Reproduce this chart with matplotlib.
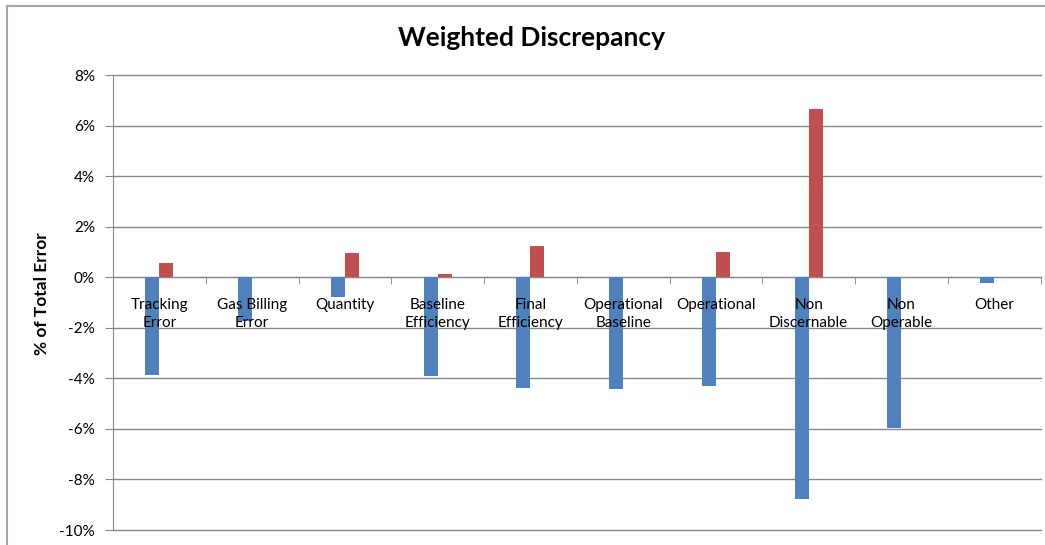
import matplotlib
matplotlib.use("Agg")
import matplotlib.pyplot as plt
from matplotlib.ticker import FuncFormatter, FixedLocator
from matplotlib.lines import Line2D
import matplotlib.transforms as mtransforms
import numpy as np

categories = ["Tracking\nError", "Gas Billing\nError", "Quantity", "Baseline\nEfficiency",
              "Final\nEfficiency", "Operational\nBaseline", "Operational", "Non\nDiscernable",
              "Non\nOperable", "Other"]
blue_values = [-3.86, -1.75, -0.79, -3.90, -4.39, -4.43, -4.30, -8.76, -5.97, -0.21]
red_values = [0.55, 0.0, 0.95, 0.12, 1.25, 0.0, 1.00, 6.65, 0.0, 0.0]
yticks = [-10, -8, -6, -4, -2, 0, 2, 4, 6, 8]

plt.rcParams['font.family'] = ['Lato', 'DejaVu Sans']

W, H = 1045, 545
fig = plt.figure(figsize=(W / 100, H / 100), dpi=100)
left, right, top, bottom = 113, 1040.5, 75, 530
ax = fig.add_axes([left / W, (H - bottom) / H, (right - left) / W, (bottom - top) / H])

x = np.arange(len(categories))
bw = 0.15
ax.bar(x - bw / 2, blue_values, width=bw, color="#4F81BD", zorder=3)
ax.bar(x + bw / 2, red_values, width=bw, color="#C0504D", zorder=3)

ax.set_xlim(-0.5, len(categories) - 0.5)
ax.set_ylim(-10, 8)
ax.set_yticks(yticks)
ax.yaxis.set_major_formatter(FuncFormatter(lambda v, p: f"{v:.0f}%"))
ax.grid(axis='y', color="#888888", linewidth=1.0, zorder=0)
for gl in ax.get_ygridlines():
    gl.set_clip_on(False)
ax.set_axisbelow(True)

for s in ['top', 'right']:
    ax.spines[s].set_visible(False)
ax.spines['left'].set_color("#888888")
ax.spines['bottom'].set_position(('data', 0))
ax.spines['bottom'].set_color("#888888")
ax.spines['bottom'].set_zorder(2)

ax.set_xticks(x)
ax.set_xticklabels([])
ax.tick_params(axis='x', which='major', length=0)
ax.xaxis.set_minor_locator(FixedLocator(np.arange(-0.5, len(categories), 1.0)))
ax.tick_params(axis='x', which='minor', length=5, color="#888888", direction='out')
ax.tick_params(axis='y', length=6, color="#888888", labelsize=11, pad=7)

# category labels drawn over the bars, just below the zero line
off = mtransforms.offset_copy(ax.transData, fig=fig, x=0, y=-20.5 * 0.72, units='points')
for xi, lab in zip(x, categories):
    ax.text(xi, 0, lab, transform=off, ha='center', va='top', fontsize=11,
            linespacing=1.38, zorder=5)

ax.set_ylabel("% of Total Error", fontsize=12.5, fontweight='bold')
ax.yaxis.set_label_coords((50 - left) / (right - left), 0.52)

fig.text(531 / W, 1 - 38 / H, "Weighted Discrepancy", fontsize=19, fontweight='bold',
         ha='center', va='center')

# outer chart border
fig.add_artist(Line2D([7 / W, 7 / W], [0, 1 - 6 / H], transform=fig.transFigure, color="#A6A6A6", lw=1.5))
fig.add_artist(Line2D([7 / W, 1], [1 - 6 / H, 1 - 6 / H], transform=fig.transFigure, color="#A6A6A6", lw=1.5))

fig.savefig("out.png", dpi=100)
